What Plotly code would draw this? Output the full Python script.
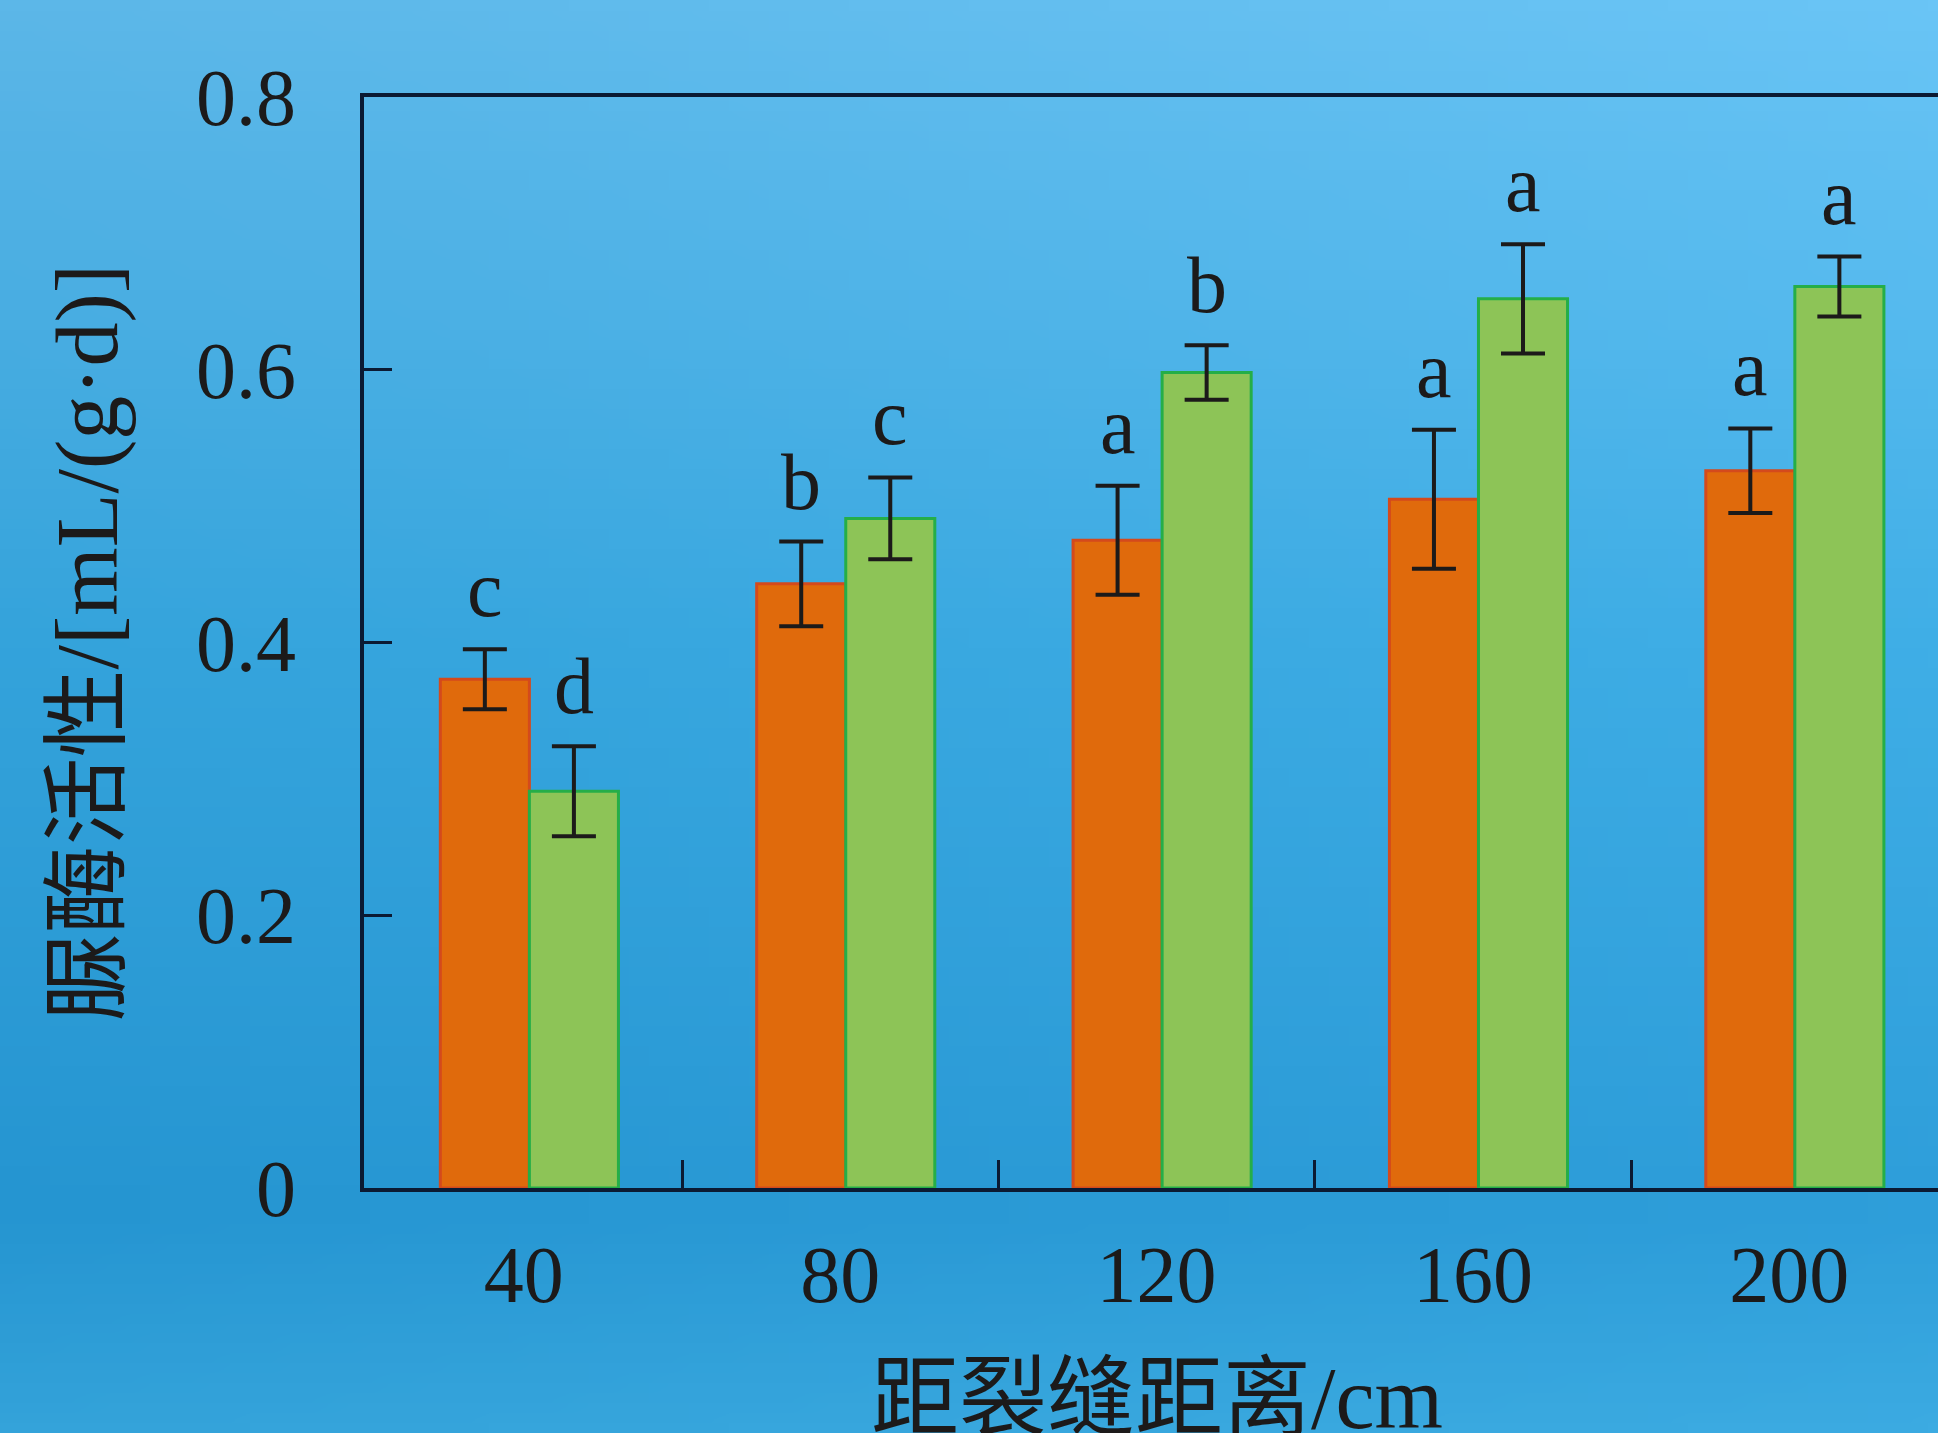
import base64
import struct
import zlib
import plotly.graph_objects as go

# ---- data ----
distances = [40, 80, 120, 160, 200]
orange_vals = [0.373, 0.443, 0.475, 0.505, 0.526]
orange_err = [0.022, 0.031, 0.040, 0.051, 0.031]
green_vals = [0.291, 0.491, 0.598, 0.652, 0.661]
green_err = [0.033, 0.030, 0.020, 0.040, 0.022]
orange_letters = ["c", "b", "a", "a", "a"]
green_letters = ["d", "c", "b", "a", "a"]
y_ticks = [0, 0.2, 0.4, 0.6, 0.8]
y_tick_text = ["0", "0.2", "0.4", "0.6", "0.8"]

W, H = 1938, 1433
ML, MR, MT, MB = 364, 0, 97, 245
BARGAP = 0.437
DTICK = 40
bar_w = DTICK * (1 - BARGAP) / 2
SHIFT = 0.7  # groups sit slightly right of the category centre
separators = [(a + b) / 2 for a, b in zip(distances[:-1], distances[1:])]

serif = "Liberation Serif, Times New Roman, serif"
cjk = "Liberation Serif, Noto Sans CJK SC, serif"
ink = "#1c1a1a"
axis_col = "#0b1a33"


# ---- soft blue background (decorative) ----
def _lerp(a, b, t):
    return tuple(a[i] + (b[i] - a[i]) * t for i in range(3))


def _bg_png(nx=97, ny=72):
    stops = [(0.0, (92, 183, 232)), (0.45, (56, 167, 223)),
             (0.85, (44, 156, 216)), (1.0, (60, 171, 226))]
    rows = []
    for j in range(ny):
        v = j / (ny - 1)
        for k in range(len(stops) - 1):
            if stops[k][0] <= v <= stops[k + 1][0]:
                t = (v - stops[k][0]) / (stops[k + 1][0] - stops[k][0])
                base = _lerp(stops[k][1], stops[k + 1][1], t)
                break
        row = bytearray([0])
        for i in range(nx):
            u = i / (nx - 1)
            glow = 14 * u * (1 - v) - 8 * (1 - u) * v
            row += bytes(max(0, min(255, int(c + glow))) for c in base)
        rows.append(bytes(row))
    raw = b"".join(rows)

    def chunk(tag, data):
        c = tag + data
        return struct.pack(">I", len(data)) + c + struct.pack(">I", zlib.crc32(c) & 0xFFFFFFFF)

    png = b"\x89PNG\r\n\x1a\n" + chunk(b"IHDR", struct.pack(">IIBBBBB", nx, ny, 8, 2, 0, 0, 0)) \
        + chunk(b"IDAT", zlib.compress(raw, 9)) + chunk(b"IEND", b"")
    return "data:image/png;base64," + base64.b64encode(png).decode()


plot_w = W - ML - MR
plot_h = H - MT - MB

fig = go.Figure()
fig.add_trace(go.Bar(
    x=distances, y=orange_vals, name="A", width=bar_w, offset=-bar_w + SHIFT,
    marker=dict(color="#E06A0C", line=dict(color="#D44A1C", width=3)),
    error_y=dict(type="data", array=orange_err, color=ink, thickness=4, width=22),
))
fig.add_trace(go.Bar(
    x=distances, y=green_vals, name="B", width=bar_w, offset=SHIFT,
    marker=dict(color="#8DC457", line=dict(color="#25AE48", width=3)),
    error_y=dict(type="data", array=green_err, color=ink, thickness=4, width=22),
))

annotations = []
for xv, v, e, t in zip(distances, orange_vals, orange_err, orange_letters):
    annotations.append(dict(x=xv + SHIFT - bar_w / 2, y=v + e, text=t, showarrow=False,
                            xref="x", yref="y", yanchor="bottom", yshift=14,
                            font=dict(family=serif, size=80, color=ink)))
for xv, v, e, t in zip(distances, green_vals, green_err, green_letters):
    annotations.append(dict(x=xv + SHIFT + bar_w / 2, y=v + e, text=t, showarrow=False,
                            xref="x", yref="y", yanchor="bottom", yshift=14,
                            font=dict(family=serif, size=80, color=ink)))

annotations.append(dict(
    text="脲酶活性/[mL/(g·d)]", textangle=-90, showarrow=False,
    xref="paper", yref="paper", x=(87 - ML) / plot_w, y=0.5,
    xanchor="center", yanchor="middle",
    font=dict(family=cjk, size=88, color=ink)))
annotations.append(dict(
    text="距裂缝距离/cm", showarrow=False,
    xref="paper", yref="paper", x=(1157 - ML) / plot_w, y=(plot_h - (1348 - MT)) / plot_h,
    xanchor="center", yanchor="top",
    font=dict(family=cjk, size=88, color=ink)))

fig.update_layout(
    width=W, height=H,
    margin=dict(l=ML, r=MR, t=MT, b=MB, pad=0),
    paper_bgcolor="#38A7DF",
    plot_bgcolor="rgba(0,0,0,0)",
    barmode="group", bargap=BARGAP, bargroupgap=0,
    showlegend=False,
    annotations=annotations,
    images=[dict(source=_bg_png(), xref="paper", yref="paper",
                 x=-ML / plot_w, y=1 + MT / plot_h, sizex=W / plot_w, sizey=H / plot_h,
                 xanchor="left", yanchor="top", sizing="stretch", layer="below")],
    xaxis=dict(
        range=[19.79, 218.8], tickmode="array", tickvals=distances,
        ticktext=[str(d) for d in distances], ticks="",
        showline=True, linecolor=axis_col, linewidth=4, mirror=True,
        showgrid=False, zeroline=False,
        tickfont=dict(family=serif, size=80, color=ink),
        ticklabelstandoff=14,
        minor=dict(tickmode="array", tickvals=separators, ticks="inside",
                   ticklen=28, tickwidth=3, tickcolor=axis_col, showgrid=False),
    ),
    yaxis=dict(
        range=[0, 0.8], tickmode="array", tickvals=y_ticks, ticktext=y_tick_text,
        ticks="inside", ticklen=28, tickwidth=3, tickcolor=axis_col,
        showline=True, linecolor=axis_col, linewidth=4,
        showgrid=False, zeroline=False,
        tickfont=dict(family=serif, size=80, color=ink),
        ticklabelstandoff=48,
    ),
)

fig.write_html(
    "out.html",
    config={"displayModeBar": False},
    post_script="document.body.style.margin='0';document.body.style.background='#38A7DF';",
)
